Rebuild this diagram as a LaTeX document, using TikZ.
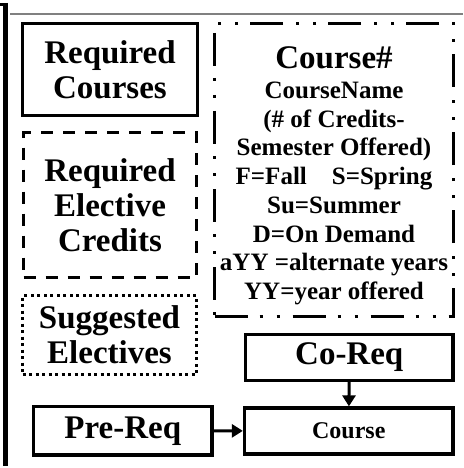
\documentclass[tikz,border=0pt]{standalone}
\usepackage{fontspec}
\setmainfont{Liberation Serif}
\usetikzlibrary{positioning,arrows.meta}
\newcommand{\bigtxt}{\fontsize{33}{35}\selectfont\bfseries}
\newcommand{\smalltxt}{\fontsize{25}{28.7}\selectfont\bfseries}
\newcommand{\boxtxt}{\fontsize{24}{26}\selectfont\bfseries}

\begin{document}
\begin{tikzpicture}[x=1pt,y=-1pt]
        \tikzstyle{rect} = [draw, rectangle, line width=3.3pt, inner sep=0pt, align=center, font=\bigtxt]
        \tikzstyle{dashedrect} = [rect, line width=3pt, dash pattern=on 12pt off 10pt]
        \tikzstyle{dottedrect} = [rect, line width=3pt, dash pattern=on 3pt off 3.5pt]
        \tikzstyle{dashdotrect} = [rect, line width=3pt, dash pattern=on 33pt off 12pt on 3pt off 14pt on 3pt off 13pt]
        \tikzstyle{arr} = [-{Triangle[length=11pt,width=13pt]}, line width=3pt]
        \useasboundingbox (0,0) rectangle (463,468);
        % page rules
        \draw[line width=2pt, gray] (10,14.5) -- (463,14.5);
        \draw[line width=5.5pt] (5.5,3) -- (5.5,466);
        \draw[line width=3pt] (0,4.5) -- (8,4.5);
        % key boxes
        \node (req) [rect, minimum width=175pt, minimum height=92pt] at (110,69.5) {Required\\Courses};
        \node (reqelec) [dashedrect, minimum width=173pt, minimum height=145pt] at (110,205) {Required\\Elective\\Credits};
        \node (sugg) [dottedrect, minimum width=174pt, minimum height=79pt] at (109.5,335) {Suggested\\Electives};
        \node (legend) [dashdotrect, minimum width=239pt, minimum height=292.5pt] at (334,169.75) {};
        \node (legendtxt) [below=24.5pt of legend.north, align=center, inner sep=0pt, font=\smalltxt]
            {{\bigtxt Course\#}\\[1.3pt]
             CourseName\\
             (\# of Credits-\\
             Semester Offered)\\
             F=Fall\quad S=Spring\\
             Su=Summer\\
             D=On Demand\\
             aYY =alternate years\\
             YY=year offered};
        \node (coreq) [rect, minimum width=207.5pt, minimum height=46pt] at (349.25,357.5) {Co-Req};
        \node (course) [rect, font=\boxtxt, minimum width=208.5pt, minimum height=46pt] at (348.75,431) {Course};
        \node (prereq) [rect, minimum width=178.5pt, minimum height=48.5pt] at (122.75,430.75) {Pre-Req};
        \draw[arr] (prereq) -- (course);
        \draw[arr] (coreq) -- (course);
\end{tikzpicture}
\end{document}
